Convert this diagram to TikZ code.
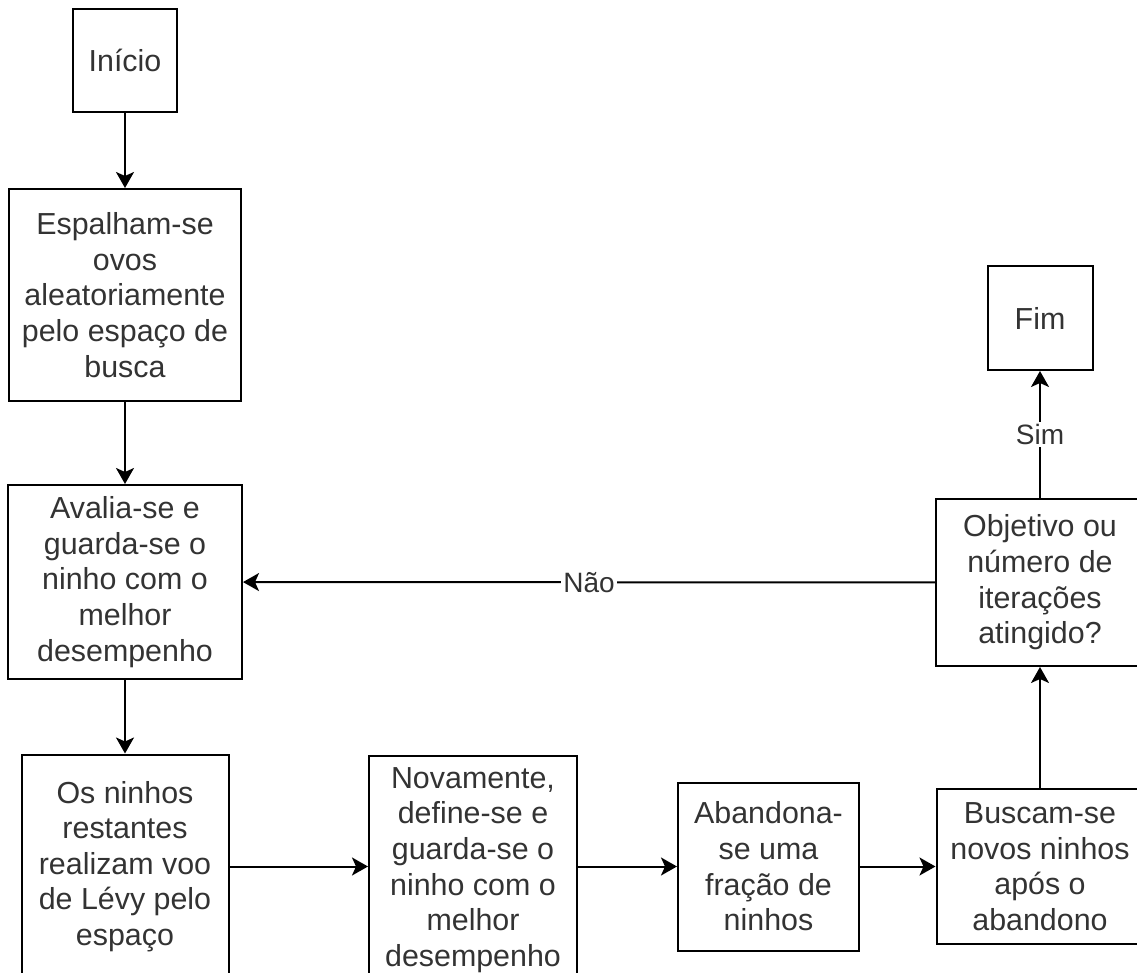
\documentclass[tikz,border=0pt]{standalone}
\usepackage{fontspec}
\setmainfont{Liberation Sans}
\usetikzlibrary{arrows.meta}

\begin{document}
\begin{tikzpicture}[x=0.5pt,y=-0.5pt,
    box/.style={draw=black,line width=1pt,align=center,inner sep=0pt,
        text=black!80,font=\fontsize{15.2}{17.8}\selectfont},
    arr/.style={line width=1pt,black,-{Stealth[length=8pt,width=9pt,inset=2pt]}},
    lbl/.style={fill=white,inner sep=1pt,text=black!80,font=\fontsize{14}{16}\selectfont}]
    \useasboundingbox (0,0) rectangle (1137,973);
    \clip (0,0) rectangle (1137,973);
    % Left column
    \node[box,minimum width=52pt,minimum height=51.5pt] (inicio) at (125,60.5) {Início};
    \node[box,minimum width=116pt,minimum height=106pt] (espalham) at (125,295)
        {Espalham-se\\ovos\\aleatoriamente\\pelo espaço de\\busca};
    \node[box,minimum width=117pt,minimum height=97pt] (avalia) at (125,582)
        {Avalia-se e\\guarda-se o\\ninho com o\\melhor\\desempenho};
    % Bottom row
    \node[box,minimum width=103.5pt,minimum height=112pt] (restantes) at (125,866.5)
        {Os ninhos\\restantes\\realizam voo\\de Lévy pelo\\espaço};
    \node[box,minimum width=104pt,minimum height=114pt] (novamente) at (473,870)
        {Novamente,\\define-se e\\guarda-se o\\ninho com o\\melhor\\desempenho};
    \node[box,minimum width=90.5pt,minimum height=84pt] (abandona) at (768.5,866.5)
        {Abandona-\\se uma\\fração de\\ninhos};
    \node[box,minimum width=103.5pt,minimum height=77.5pt] (buscam) at (1040,866.5)
        {Buscam-se\\novos ninhos\\após o\\abandono};
    % Right column
    \node[box,minimum width=104pt,minimum height=83.5pt] (objetivo) at (1040,582.5)
        {Objetivo ou\\número de\\iterações\\atingido?};
    \node[box,minimum width=52.5pt,minimum height=52pt] (fim) at (1040,318) {Fim};
    % Connectors
    \draw[arr] (inicio) -- (espalham);
    \draw[arr] (espalham) -- (avalia);
    \draw[arr] (avalia) -- (restantes);
    \draw[arr] (restantes) -- (restantes -| novamente.west);
    \draw[arr] (novamente.east |- abandona) -- (abandona);
    \draw[arr] (abandona) -- (buscam);
    \draw[arr] (buscam) -- (objetivo);
    \draw[arr] (objetivo) -- node[lbl] {Sim} (fim);
    \draw[arr] (objetivo) -- node[lbl] {Não} (avalia);
\end{tikzpicture}
\end{document}
